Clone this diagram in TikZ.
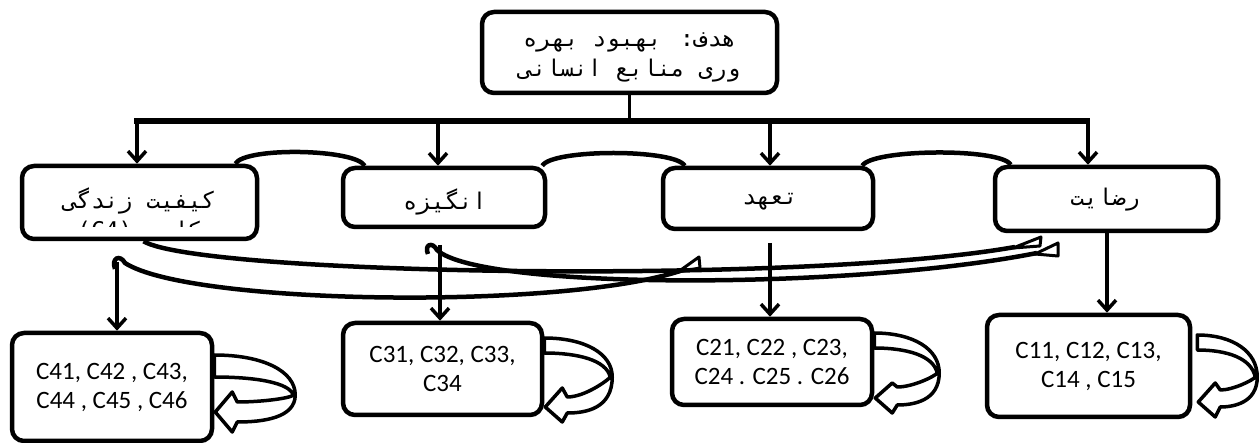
\documentclass[tikz,border=0pt]{standalone}
\usepackage{fontspec}
\setmainfont{Carlito}
\newfontfamily\fa[Script=Arabic]{DejaVu Sans Mono}
\TeXXeTstate=1
\usetikzlibrary{arrows.meta,calc}

% curved self-loop arrow on the right side of a box
% #1 origin, #2 reach, #3 band width at box, #4 depth of outer turn,
% #5/#6 upper/lower edge of the return shaft, #7/#8 barbs, #9 tip
\newcommand\selfloop[9]{%
  \begin{scope}[shift={#1}]
    \draw[band] (0,0) .. controls ({0.6*#2},0) and (#2,{0.4*#4}) .. (#2,#4)
      .. controls (#2,{#6-4}) and ({0.6*#2},#6) .. (23,#6)
      -- (18,#8) -- (1,#9) -- (18,#7) -- (23,#5)
      .. controls ({0.6*#2},#5) and ({#2-4},{#4+3}) .. ({#2-2},#4)
      .. controls ({#2-6},{#3+0.3*(#4-#3)}) and ({0.5*#2},#3) .. (0,#3) -- cycle;
  \end{scope}}

\begin{document}
\begin{tikzpicture}[x=1pt,y=-1pt,
  box/.style={draw, line width=4.5pt, rounded corners=12pt, fill=white, inner sep=0pt},
  fatext/.style={font=\fa\fontsize{23}{30}\selectfont, align=center, inner sep=0pt},
  latext/.style={font=\fontsize{25}{29}\selectfont, align=center},
  link/.style={line width=3.5pt, -{Straight Barb[length=10pt,width=18pt,line width=3.5pt]}},
  bridge/.style={line width=4.5pt},
  band/.style={line width=3.5pt, fill=white, line join=round},
  swoop/.style={line width=4.5pt},
  head/.style={line width=3pt, fill=white, line join=round}]
\useasboundingbox (0,0) rectangle (1259,443);

% goal
\node[box, minimum width=295pt, minimum height=81pt] (goal) at (629.5,52.5) {};
\node[fatext] (goaltext) at (629.5,57)
  {\beginR هدف: بهبود بهره\endR\\\beginR وری منابع انسانی\endR};

% criteria
\node[box, minimum width=235pt, minimum height=73pt] (b4) at (139.5,202.5) {};
\node[box, minimum width=202pt, minimum height=59pt] (b3) at (444,197.5) {};
\node[box, minimum width=210pt, minimum height=61pt] (b2) at (768,198.5) {};
\node[box, minimum width=223pt, minimum height=64pt] (b1) at (1106.5,199) {};
\node[fatext] (b3text) at (445,202) {\beginR انگیزه\endR};
\node[fatext] (b2text) at (770,202) {\beginR تعهد\endR};
\node[fatext] (b1text) at (1105,200) {\beginR رضایت\endR};
\begin{scope}
  \clip (26,170) rectangle (253,227);
  \node[fatext] (b4text) at (139.5,216) {\beginR کیفیت زندگی\endR\\\beginR کاری \beginL(C4)\endL\endR};
\end{scope}

% sub-criteria
\node[box, latext, minimum width=200pt, minimum height=108pt] (c4) at (112,387) {C41, C42 , C43,\\C44 , C45 , C46};
\node[box, latext, minimum width=199pt, minimum height=92pt] (c3) at (442.5,369) {C31, C32, C33,\\C34};
\node[box, latext, minimum width=200pt, minimum height=86pt] (c2) at (772,362) {C21, C22 , C23,\\C24 . C25 . C26};
\node[box, latext, minimum width=203pt, minimum height=102pt] (c1) at (1088.5,366) {C11, C12, C13,\\C14 , C15};

% goal to criteria
\coordinate (barL) at (134,121);
\coordinate (barR) at (1090,121);
\coordinate (a4) at (137,121);
\coordinate (a3) at (438,121);
\coordinate (a2) at (770,121);
\coordinate (a1) at (1088,121);
\draw[line width=3.5pt] (goal.south) -- (goal.south |- barL);
\draw[line width=5.5pt] (barL) -- (barR);
\draw[link] (a4) -- (a4 |- b4.north);
\draw[link] (a3) -- (a3 |- b3.north);
\draw[link] (a2) -- (a2 |- b2.north);
\draw[link] (a1) -- (a1 |- b1.north);

% links between neighbouring criteria
\draw[bridge] ($(b4.north east)+(-24,0)$) .. controls +(10,-17) and +(-10,-17) .. ($(b3.north west)+(24,0)$);
\draw[bridge] ($(b3.north east)+(-5,0)$) .. controls +(10,-17) and +(-10,-17) .. ($(b2.north west)+(24,0)$);
\draw[bridge] ($(b2.north east)+(-13,0)$) .. controls +(10,-17) and +(-10,-17) .. ($(b1.north west)+(18,0)$);

% long curved arrows between the criteria
\coordinate (t4) at (117,262);
\coordinate (t3) at (440,245);
\coordinate (t2) at (770,243);
\coordinate (t1) at (1107,231);
\draw[swoop] (115,269) .. controls (111,258) and (120,254) .. (125,263)
  .. controls (190,305) and (560,310) .. (680,271);
\draw[head] (678,272) -- (699,257) -- (700,268) -- cycle;
\draw[swoop] ($(b4.south)+(4,0)$) .. controls (200,275) and (800,285) .. (1015,247);
\draw[head] (1013,248) -- (1041,237) -- (1040,246) -- cycle;
\draw[swoop] (428,254) .. controls (424,245) and (432,241) .. (437,250)
  .. controls (480,290) and (850,290) .. (1037,253);
\draw[head] (1035,254) -- (1058,243) -- (1058,256) -- cycle;

% criteria to sub-criteria
\draw[link] (t4) -- (t4 |- c4.north);
\draw[link] (t3) -- (t3 |- c3.north);
\draw[link] (t2) -- (t2 |- c2.north);
\draw[link] (t1) -- (t1 |- c1.north);

% self loops
\selfloop{($(c4.east)+(0,-32)$)}{81}{22}{40}{47}{67}{37}{77}{57}
\selfloop{($(c3.east)+(0,-31)$)}{68}{15}{39}{59}{75}{50}{84}{69}
\selfloop{($(c2.east)+(0,-29)$)}{65}{15}{40}{54}{72}{50}{80}{65}
\selfloop{($(c1.east)+(5,-31)$)}{60}{15}{42}{55}{72}{48}{82}{67}
\end{tikzpicture}
\end{document}
